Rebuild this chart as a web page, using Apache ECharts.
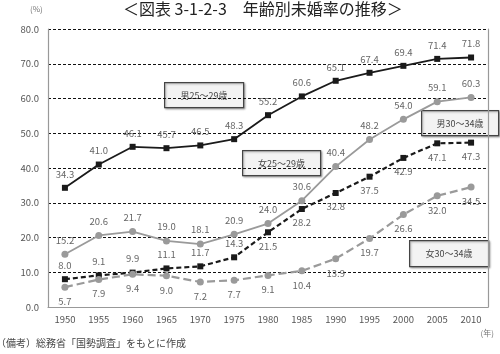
<!DOCTYPE html>
<html lang="ja">
<head>
  <meta charset="UTF-8">
  <title>年齢別未婚率の推移</title>
  <script src="https://cdn.jsdelivr.net/npm/echarts@6/dist/echarts.min.js"></script>
  <style>
    html, body { margin: 0; padding: 0; background: #fff; }
    #chart { width: 500px; height: 354px; }
  </style>
</head>
<body>
  <div id="chart"></div>
  <script>
    // data
    var years = ['1950', '1955', '1960', '1965', '1970', '1975', '1980', '1985', '1990', '1995', '2000', '2005', '2010'];
    var male2529 = [34.3, 41.0, 46.1, 45.7, 46.5, 48.3, 55.2, 60.6, 65.1, 67.4, 69.4, 71.4, 71.8];
    var male3034 = [8.0, 9.1, 9.9, 11.1, 11.7, 14.3, 21.5, 28.2, 32.8, 37.5, 42.9, 47.1, 47.3];
    var female2529 = [15.2, 20.6, 21.7, 19.0, 18.1, 20.9, 24.0, 30.6, 40.4, 48.2, 54.0, 59.1, 60.3];
    var female3034 = [5.7, 7.9, 9.4, 9.0, 7.2, 7.7, 9.1, 10.4, 13.9, 19.7, 26.6, 32.0, 34.5];

    var font = '"Noto Sans CJK JP", "Liberation Sans", sans-serif';
    var chart = echarts.init(document.getElementById('chart'));

    // label placement: above for early years, below later on
    function withLabels(vals, posFn) {
      return vals.map(function (v, i) {
        return { value: v, label: { position: posFn(i) } };
      });
    }

    function lineSeries(name, vals, color, dash, symbol, posFn) {
      return {
        name: name,
        type: 'line',
        data: withLabels(vals, posFn),
        symbol: symbol,
        symbolSize: symbol === 'rect' ? 6 : 7,
        itemStyle: { color: color },
        lineStyle: { color: color, width: dash ? 2.2 : 1.8, type: dash || 'solid' },
        label: {
          show: true,
          color: '#666',
          fontSize: 9.5,
          fontFamily: font,
          distance: 6,
          formatter: function (p) { return p.value.toFixed(1); }
        },
        animation: false
      };
    }

    function box(text, x, y, w, h) {
      return {
        type: 'group',
        left: x, top: y,
        children: [
          { type: 'rect', shape: { x: 0, y: 0, width: w, height: h },
            style: { fill: '#f3f3f3', stroke: '#444', lineWidth: 1.2,
                     shadowBlur: 2, shadowColor: 'rgba(0,0,0,0.3)', shadowOffsetX: 1, shadowOffsetY: 1 } },
          { type: 'text', x: w / 2, y: h / 2,
            style: { text: text, fill: '#444', fontSize: 9, fontFamily: font, align: 'center', verticalAlign: 'middle' } }
        ]
      };
    }

    var options = {
      animation: false,
      grid: { left: 48, right: 12, top: 29, bottom: 47 },
      xAxis: {
        type: 'category',
        data: years,
        boundaryGap: true,
        axisLine: { lineStyle: { color: '#999', width: 1.2 } },
        axisTick: { show: false },
        axisLabel: { color: '#555', fontSize: 9.5, fontFamily: font, margin: 8 }
      },
      yAxis: [
        {
          type: 'value',
          min: 0, max: 80, interval: 10,
          axisLine: { show: true, lineStyle: { color: '#999', width: 1.2 } },
          axisTick: { show: false },
          axisLabel: { color: '#555', fontSize: 9.5, fontFamily: font, margin: 9,
                       formatter: function (v) { return v.toFixed(1); } },
          splitLine: { show: true, lineStyle: { color: '#111', type: [3, 2], width: 1 } }
        },
        {
          type: 'value',
          min: 0, max: 80, interval: 10,
          position: 'right',
          axisLine: { show: true, lineStyle: { color: '#999', width: 1.2 } },
          axisTick: { show: false },
          axisLabel: { show: false },
          splitLine: { show: false }
        }
      ],
      series: [
        lineSeries('男25~29歳', male2529, '#1a1a1a', null, 'rect', function () { return 'top'; }),
        lineSeries('女25~29歳', female2529, '#9a9a9a', null, 'circle', function () { return 'top'; }),
        lineSeries('男30~34歳', male3034, '#1a1a1a', [5, 3], 'rect', function (i) { return i < 6 ? 'top' : 'bottom'; }),
        lineSeries('女30~34歳', female3034, '#9a9a9a', [8, 4], 'circle', function () { return 'bottom'; })
      ],
      graphic: [
        { type: 'text', left: 123, top: 1,
          style: { text: '＜図表 3-1-2-3　年齢別未婚率の推移＞', fill: '#222', fontSize: 16, fontFamily: font } },
        { type: 'text', left: 30, top: 5,
          style: { text: '(%)', fill: '#777', fontSize: 8, fontFamily: font } },
        { type: 'text', right: 6, top: 329,
          style: { text: '(年)', fill: '#777', fontSize: 8, fontFamily: font } },
        { type: 'text', left: -4, top: 338,
          style: { text: '（備考）総務省「国勢調査」をもとに作成', fill: '#444', fontSize: 10, fontFamily: font } },
        box('男25～29歳', 164, 82, 79, 25),
        box('女25～29歳', 242, 150, 78, 25),
        box('男30～34歳', 421, 110, 77, 25),
        box('女30～34歳', 409, 240, 79, 26)
      ]
    };

    chart.setOption(options);
  </script>
</body>
</html>
